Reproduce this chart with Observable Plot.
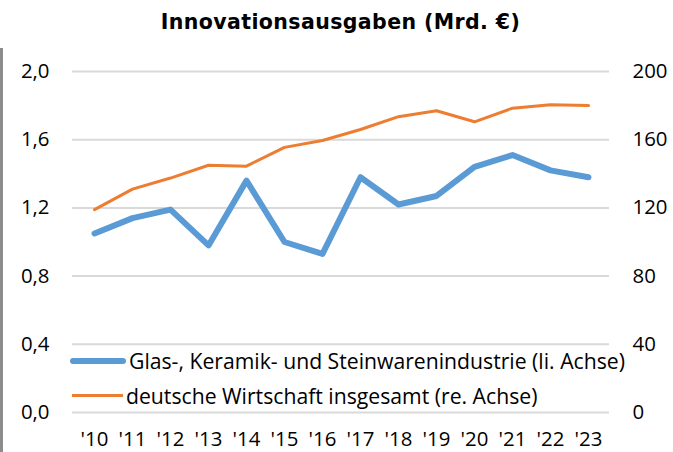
<!DOCTYPE html>
<html><head><meta charset="utf-8">
<script src="https://cdn.jsdelivr.net/npm/d3@7"></script>
<script src="https://cdn.jsdelivr.net/npm/@observablehq/plot@0.6"></script>
<style>
body{margin:0;background:#fff;width:673px;height:452px;overflow:hidden;position:relative;font-family:"Open Sans",sans-serif;}
#title{position:absolute;left:0;top:0;width:673px;height:45px;text-align:center;font:bold 20.5px "DejaVu Sans";letter-spacing:0.4px;line-height:44px;padding-left:8px;box-sizing:border-box;color:#000;}
#chart{position:absolute;left:0;top:45px;}
#border{position:absolute;left:0;top:48px;width:2.5px;height:404px;background:#8c8c8c;}
.leg{position:absolute;left:70px;display:flex;align-items:center;font-size:21.2px;color:#000;white-space:nowrap;}
.sw{margin-right:3px;border-radius:3px;}
</style></head><body>
<div id="border"></div>
<div id="title">Innovationsausgaben (Mrd. €)</div>
<div id="chart"></div>
<div class="leg" style="top:346px"><span class="sw" style="width:56px;height:6px;background:#5B9BD5"></span><span>Glas-, Keramik- und Steinwarenindustrie (li. Achse)</span></div>
<div class="leg" style="top:381px"><span class="sw" style="width:51px;height:3px;background:#ED7D31;margin-left:2px;border-radius:0"></span><span>deutsche Wirtschaft insgesamt (re. Achse)</span></div>
<script>
const years = ["'10","'11","'12","'13","'14","'15","'16","'17","'18","'19","'20","'21","'22","'23"];
const glasKeramik = [1.05,1.14,1.19,0.98,1.36,1.00,0.93,1.38,1.22,1.27,1.44,1.51,1.42,1.38];
const deutscheWirtschaft = [119,131,137.5,145,144.5,155.5,159.5,166,173.5,177,170.5,178.5,180.5,180];
const leftTicks = [0,0.4,0.8,1.2,1.6,2.0];
const rightTicks = [0,40,80,120,160,200];

const blue = years.map((y,i)=>({year:y, v:glasKeramik[i]}));
const orange = years.map((y,i)=>({year:y, v:deutscheWirtschaft[i]}));

const plot = Plot.plot({
  width:673, height:407,
  marginTop:26, marginBottom:40, marginLeft:72, marginRight:64,
  style:{fontFamily:"'Open Sans', sans-serif", fontSize:"20.4px", color:"#000", background:"transparent"},
  x:{type:"point", domain:years, padding:0.5},
  y:{domain:[0,2]},
  marks:[
    Plot.ruleY(leftTicks,{stroke:"#d9d9d9", strokeWidth:2}),
    Plot.axisY(leftTicks,{anchor:"left", tickSize:0, tickPadding:23, tickFormat:d=>d.toFixed(1).replace(".",","), label:null}),
    Plot.axisY(rightTicks.map(d=>d/100),{anchor:"right", tickSize:0, tickPadding:23, tickFormat:d=>String(Math.round(d*100)), label:null}),
    Plot.axisX({tickSize:0, tickPadding:19, label:null}),
    Plot.line(orange,{x:"year", y:d=>d.v/100, stroke:"#ED7D31", strokeWidth:3}),
    Plot.line(blue,{x:"year", y:"v", stroke:"#5B9BD5", strokeWidth:6, strokeLinecap:"round"})
  ]
});
document.getElementById("chart").appendChild(plot);
</script>
</body></html>
